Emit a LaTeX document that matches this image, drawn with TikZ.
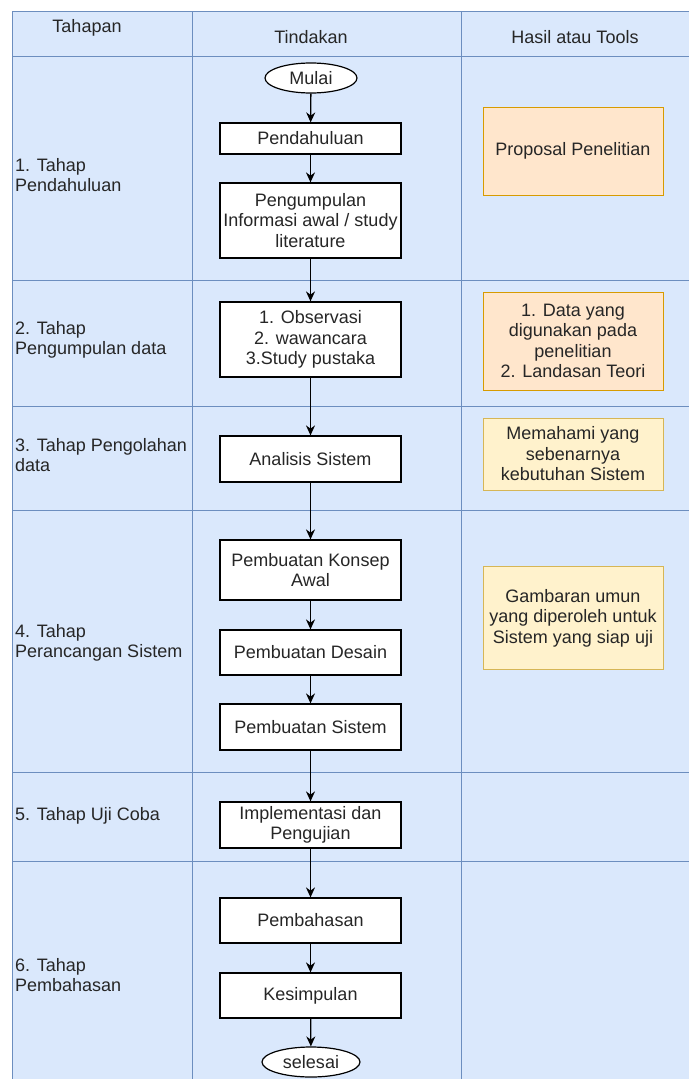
\documentclass[tikz,border=0pt]{standalone}
\usepackage{fontspec}
\setmainfont{Liberation Sans}
\usetikzlibrary{shapes.geometric,arrows.meta}

\definecolor{lanefill}{HTML}{DAE8FC}
\definecolor{laneline}{HTML}{6C8EBF}
\definecolor{orangefill}{HTML}{FFE6CC}
\definecolor{orangeline}{HTML}{D79B00}
\definecolor{yellowfill}{HTML}{FFF2CC}
\definecolor{yellowline}{HTML}{D6B656}

\begin{document}
\begin{tikzpicture}[x=1pt, y=-1pt, font=\fontsize{18}{20.5}\selectfont, text=black!85]
    \tikzset{flow box/.style={draw=black, fill=white, line width=1.2pt, rectangle, minimum width=181pt, inner sep=0pt, align=center},
             term/.style={draw=black, fill=white, line width=1.2pt, ellipse, minimum height=30pt, inner sep=0pt},
             hasil orange/.style={draw=orangeline, fill=orangefill, line width=1pt, minimum width=180pt, inner sep=0pt, align=center},
             hasil yellow/.style={draw=yellowline, fill=yellowfill, line width=1pt, minimum width=180pt, inner sep=0pt, align=center},
             lane label/.style={anchor=west, align=left, inner sep=0pt}}
    \useasboundingbox (0,0) rectangle (689,1079);
    % the table
    \fill[lanefill] (12,11) rectangle (689,1079);
    \draw[laneline, line width=1pt] (689,11) -- (12,11) -- (12,1079);
    \draw[laneline, line width=1pt] (192,11) -- (192,1079);
    \draw[laneline, line width=1pt] (461,11) -- (461,1079);
    \foreach \y in {56,280,406,510,772,861}
        \draw[laneline, line width=1pt] (12,\y) -- (689,\y);
    \node (tahapan) at (87,28) {Tahapan};
    \node (tindakan) at (311,37) {Tindakan};
    \node (hasil) at (575,37) {Hasil atau Tools};
    % stages
    \node[lane label] (tahap1) at (15,175) {1. Tahap\\Pendahuluan};
    \node[lane label] (tahap2) at (15,340) {2. Tahap\\Pengumpulan data};
    \node[lane label] (tahap3) at (15,455) {3. Tahap Pengolahan\\data};
    \node[lane label] (tahap4) at (15,643) {4. Tahap\\Perancangan Sistem};
    \node[lane label] (tahap5) at (15,816) {5. Tahap Uji Coba};
    \node[lane label] (tahap6) at (15,975) {6. Tahap\\Pembahasan};
    % flow
    \node[term, minimum width=92pt] (mulai) at (311,78) {Mulai};
    \node[flow box, minimum height=31pt] (pendahuluan) at (310.5,138.5) {Pendahuluan};
    \node[flow box, minimum height=75pt] (pengumpulan) at (310.5,220.5) {Pengumpulan\\Informasi awal / study\\literature};
    \node[flow box, minimum height=75pt] (observasi) at (310.5,339.5) {1. Observasi\\2. wawancara\\3.Study pustaka};
    \node[flow box, minimum height=46pt] (analisis) at (310.5,459) {Analisis Sistem};
    \node[flow box, minimum height=60pt] (konsep) at (310.5,570) {Pembuatan Konsep\\Awal};
    \node[flow box, minimum height=45pt] (desain) at (310.5,652.5) {Pembuatan Desain};
    \node[flow box, minimum height=46pt] (sistem) at (310.5,727) {Pembuatan Sistem};
    \node[flow box, minimum height=46pt] (implementasi) at (310.5,825) {Implementasi dan\\Pengujian};
    \node[flow box, minimum height=45pt] (pembahasan) at (310.5,920.5) {Pembahasan};
    \node[flow box, minimum height=45pt] (kesimpulan) at (310.5,995.5) {Kesimpulan};
    \node[term, minimum width=98pt] (selesai) at (311,1062) {selesai};
    \foreach \a/\b in {mulai/pendahuluan, pendahuluan/pengumpulan, pengumpulan/observasi, observasi/analisis,
                       analisis/konsep, konsep/desain, desain/sistem, sistem/implementasi,
                       implementasi/pembahasan, pembahasan/kesimpulan, kesimpulan/selesai}
        \draw[->, >={Stealth[length=10pt, width=9pt]}, line width=1.3pt, black] (\a) -- (\b);
    % results
    \node[hasil orange, minimum height=88pt] (proposal) at (573,151) {Proposal Penelitian};
    \node[hasil orange, minimum height=98pt] (data) at (573,341) {1. Data yang\\digunakan pada\\penelitian\\2. Landasan Teori};
    \node[hasil yellow, minimum height=72pt] (memahami) at (573,454) {Memahami yang\\sebenarnya\\kebutuhan Sistem};
    \node[hasil yellow, minimum height=103pt] (gambaran) at (573,618) {Gambaran umun\\yang diperoleh untuk\\Sistem yang siap uji};
\end{tikzpicture}
\end{document}
